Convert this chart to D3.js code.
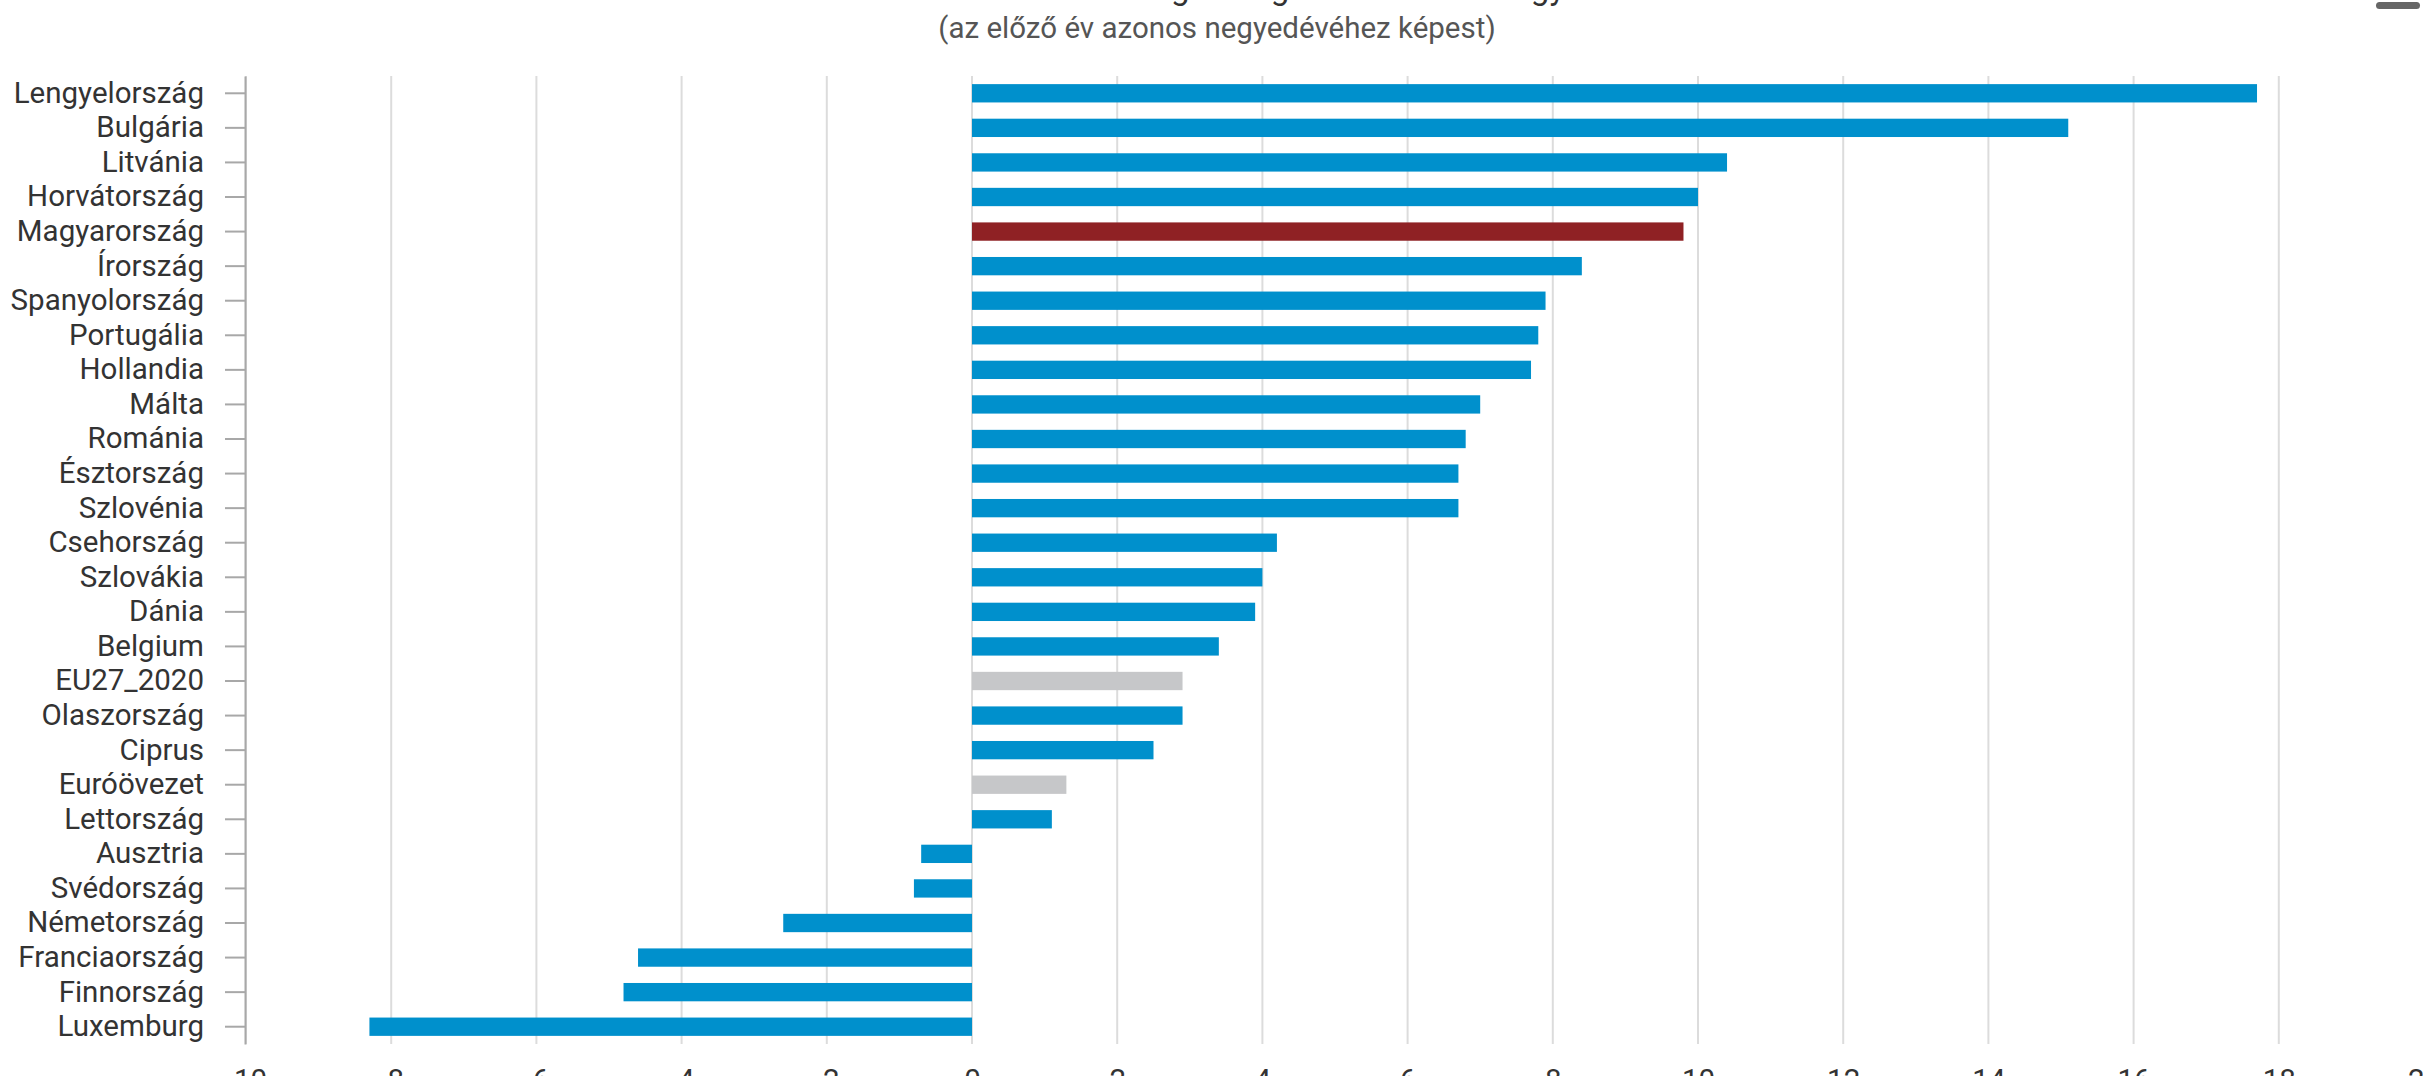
<!DOCTYPE html>
<html>
<head>
<meta charset="utf-8">
<script src="https://cdn.jsdelivr.net/npm/d3@7"></script>
<style>
  html, body { margin: 0; padding: 0; background: #fff; overflow: hidden; }
  svg { display: block; font-family: Roboto, "Noto Sans", sans-serif; }
</style>
</head>
<body>
<svg id="chart" width="2423" height="1076"></svg>
<script>
const categories = ["Lengyelország","Bulgária","Litvánia","Horvátország","Magyarország","Írország","Spanyolország","Portugália","Hollandia","Málta","Románia","Észtország","Szlovénia","Csehország","Szlovákia","Dánia","Belgium","EU27_2020","Olaszország","Ciprus","Euróövezet","Lettország","Ausztria","Svédország","Németország","Franciaország","Finnország","Luxemburg"];
const values = [17.7,15.1,10.4,10.0,9.8,8.4,7.9,7.8,7.7,7.0,6.8,6.7,6.7,4.2,4.0,3.9,3.4,2.9,2.9,2.5,1.3,1.1,-0.7,-0.8,-2.6,-4.6,-4.8,-8.3];
const highlightRed = ["Magyarország"];
const highlightGray = ["EU27_2020","Euróövezet"];
const xTicks = [-10,-8,-6,-4,-2,0,2,4,6,8,10,12,14,16,18,20];
const titleText = "Éves lakásár-változás az EU tagországaiban 2024. I. negyedévében";
const subtitleText = "(az előző év azonos negyedévéhez képest)";

const W = 2423, H = 1076;
const plot = { left: 246, right: 2424, top: 76, bottom: 1044 };
const svg = d3.select("#chart");

const x = d3.scaleLinear().domain([-10, 20]).range([plot.left, plot.right]);
const y = d3.scaleBand().domain(categories).range([plot.top, plot.bottom]).paddingInner(0.47).paddingOuter(0.235);

// gridlines
svg.append("g").selectAll("line").data(xTicks).join("line")
  .attr("x1", d => x(d)).attr("x2", d => x(d))
  .attr("y1", plot.top).attr("y2", plot.bottom)
  .attr("stroke", "#dcdcdc").attr("stroke-width", 2);

// bars
const colorOf = c => highlightRed.includes(c) ? "#8f2124" : (highlightGray.includes(c) ? "#c6c7c9" : "#0090cc");
svg.append("g").selectAll("rect").data(categories).join("rect")
  .attr("x", (c, i) => x(Math.min(0, values[i])))
  .attr("width", (c, i) => Math.abs(x(values[i]) - x(0)))
  .attr("y", c => y(c))
  .attr("height", y.bandwidth())
  .attr("fill", c => colorOf(c));

// left category axis
const yAxis = d3.axisLeft(y).tickSize(20).tickPadding(21).tickSizeOuter(0);
const gy = svg.append("g").attr("transform", `translate(${plot.left - 1},0)`).call(yAxis);
gy.select(".domain").attr("stroke", "#a8a8a8").attr("stroke-width", 2);
gy.selectAll(".tick line").attr("stroke", "#a8a8a8").attr("stroke-width", 2);
gy.selectAll(".tick text").attr("font-size", 29.5).attr("fill", "#333").attr("font-family", "Roboto");

// bottom value axis (labels mostly cut off by frame, as in the reference)
const xAxis = d3.axisBottom(x).tickValues(xTicks).tickSize(0).tickPadding(0).tickFormat(d => String(d));
const gx = svg.append("g").attr("transform", `translate(0,${plot.bottom})`).call(xAxis);
gx.select(".domain").remove();
gx.selectAll(".tick text").attr("font-size", 29.5).attr("fill", "#333").attr("font-family", "Roboto")
  .attr("dy", null).attr("y", 46);

// title (only descenders visible at top) and subtitle
svg.append("text").attr("x", 1217).attr("y", -1).attr("text-anchor", "middle")
  .attr("font-size", 33).attr("fill", "#333").text(titleText);
svg.append("text").attr("x", 1217).attr("y", 38).attr("text-anchor", "middle")
  .attr("font-size", 29.5).attr("fill", "#555").text(subtitleText);

// context menu button remnant
svg.append("rect").attr("x", 2376).attr("y", 2).attr("width", 44).attr("height", 7)
  .attr("rx", 3.5).attr("fill", "#666");
</script>
</body>
</html>
